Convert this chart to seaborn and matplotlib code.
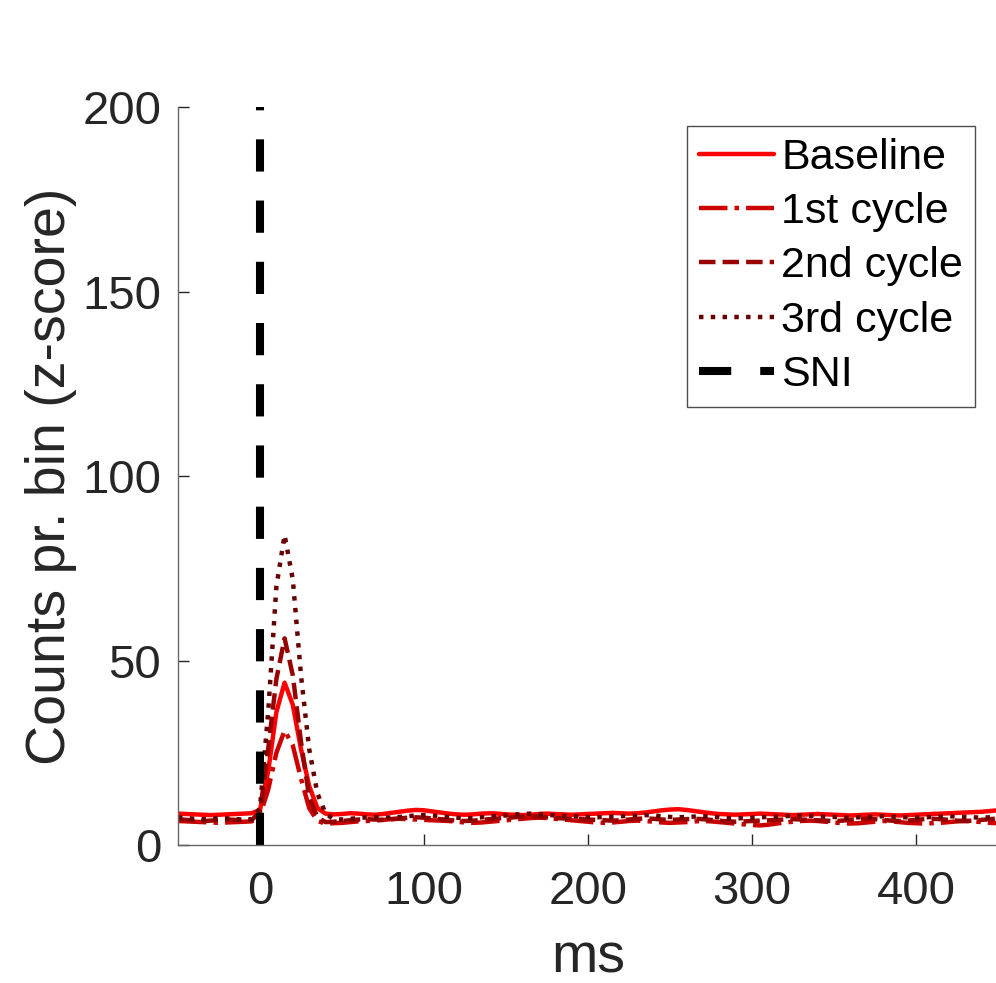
import matplotlib
matplotlib.use('Agg')
import matplotlib.pyplot as plt
import seaborn as sns
import numpy as np
import pandas as pd

# time bins (ms), 5 ms steps
ms = np.arange(-50, 455, 5)

baseline = [8.5, 8.4, 8.3, 8.2, 8.1, 8.2, 8.3, 8.4, 8.5, 8.6,
            9.5, 20, 36, 44, 38, 26, 16, 10, 8.5, 8.3,
            8.4, 8.6, 8.5, 8.3, 8.2, 8.4, 8.7, 9.0, 9.3, 9.5,
            9.4, 9.1, 8.8, 8.5, 8.3, 8.2, 8.3, 8.5, 8.6, 8.5,
            8.3, 8.2, 8.1, 8.2, 8.4, 8.5, 8.4, 8.3, 8.2, 8.3,
            8.4, 8.5, 8.6, 8.7, 8.6, 8.5, 8.6, 8.8, 9.1, 9.4,
            9.6, 9.7, 9.5, 9.2, 8.9, 8.6, 8.4, 8.3, 8.2, 8.3,
            8.4, 8.5, 8.4, 8.3, 8.2, 8.1, 8.2, 8.3, 8.4, 8.3,
            8.2, 8.1, 8.0, 8.1, 8.2, 8.3, 8.2, 8.1, 8.0, 8.1,
            8.2, 8.3, 8.4, 8.5, 8.6, 8.7, 8.8, 8.9, 9.0, 9.2, 9.4]

cycle1 = [6.5, 6.4, 6.3, 6.2, 6.1, 6.0, 6.1, 6.2, 6.3, 6.4,
          8, 15, 25, 31, 27, 18, 10, 6.5, 5.8, 5.9,
          6.0, 6.2, 6.4, 6.5, 6.6, 6.8, 7.0, 7.1, 7.0, 6.9,
          6.8, 6.7, 6.6, 6.5, 6.3, 6.1, 6.0, 6.1, 6.3, 6.5,
          6.7, 6.9, 7.1, 7.3, 7.4, 7.3, 7.1, 6.9, 6.7, 6.5,
          6.3, 6.1, 6.0, 6.1, 6.3, 6.5, 6.6, 6.5, 6.3, 6.1,
          6.0, 6.1, 6.2, 6.4, 6.5, 6.4, 6.2, 6.0, 5.8, 5.6,
          5.4, 5.3, 5.5, 5.8, 6.1, 6.3, 6.5, 6.6, 6.5, 6.3,
          6.1, 5.9, 5.8, 5.9, 6.1, 6.3, 6.5, 6.4, 6.2, 6.0,
          5.9, 5.8, 5.9, 6.0, 6.2, 6.4, 6.5, 6.4, 6.2, 6.0, 5.9]

cycle2 = [7.0, 6.8, 6.6, 6.5, 6.6, 6.8, 6.9, 6.8, 6.7, 6.8,
          9, 26, 45, 56, 46, 28, 13, 7.5, 6.2, 6.3,
          6.5, 6.7, 6.9, 7.0, 6.9, 6.8, 7.0, 7.2, 7.4, 7.5,
          7.4, 7.2, 7.0, 6.8, 6.6, 6.5, 6.6, 6.8, 7.0, 7.2,
          7.3, 7.5, 7.7, 7.8, 7.7, 7.5, 7.3, 7.2, 7.1, 7.0,
          6.9, 6.8, 6.7, 6.6, 6.7, 6.9, 7.1, 7.2, 7.1, 6.9,
          6.8, 6.9, 7.0, 7.1, 7.0, 6.8, 6.6, 6.4, 6.3, 6.4,
          6.5, 6.6, 6.7, 6.8, 6.9, 7.0, 6.9, 6.8, 6.7, 6.6,
          6.5, 6.6, 6.8, 7.0, 7.1, 7.0, 6.8, 6.6, 6.5, 6.6,
          6.8, 7.0, 7.1, 7.0, 6.8, 6.6, 6.5, 6.6, 6.8, 7.0, 7.2]

cycle3 = [7.5, 7.3, 7.1, 7.0, 7.1, 7.3, 7.2, 7.0, 6.9, 7.0,
          10, 36, 70, 84, 72, 46, 26, 14, 8.5, 7.0,
          6.9, 7.1, 7.3, 7.5, 7.6, 7.5, 7.4, 7.6, 7.8, 8.0,
          8.1, 8.0, 7.8, 7.6, 7.4, 7.2, 7.3, 7.5, 7.7, 7.9,
          8.0, 8.2, 8.4, 8.5, 8.4, 8.2, 8.0, 7.9, 7.8, 7.7,
          7.6, 7.5, 7.6, 7.7, 7.8, 7.9, 8.0, 8.1, 8.0, 7.8,
          7.6, 7.5, 7.6, 7.7, 7.8, 7.7, 7.5, 7.3, 7.2, 7.3,
          7.4, 7.5, 7.6, 7.7, 7.8, 7.9, 8.0, 7.9, 7.8, 7.7,
          7.6, 7.5, 7.4, 7.5, 7.6, 7.7, 7.8, 7.7, 7.6, 7.5,
          7.4, 7.5, 7.6, 7.7, 7.8, 7.7, 7.6, 7.5, 7.4, 7.5, 7.6]

labels = ["Baseline", "1st cycle", "2nd cycle", "3rd cycle"]
colors = [(1.0, 0, 0), (0.8, 0, 0), (0.6, 0, 0), (0.4, 0, 0)]
styles = ["-", "-.", "--", ":"]

sni_x = [0, 0]
sni_y = [0, 200]

sns.set_style("ticks")
plt.rcParams['font.family'] = ['Liberation Sans', 'DejaVu Sans']

text_col = (0.15, 0.15, 0.15)

fig = plt.figure(figsize=(9.96, 9.83), dpi=100)
ax = fig.add_axes([0.1787, 0.1404, 0.8233, 0.7507])

df = pd.DataFrame({"ms": ms, "Baseline": baseline, "1st cycle": cycle1,
                   "2nd cycle": cycle2, "3rd cycle": cycle3})

for lab, col, ls in zip(labels, colors, styles):
    sns.lineplot(data=df, x="ms", y=lab, ax=ax, color=col, linestyle=ls,
                 linewidth=3.2, label=lab)

ax.plot(sni_x, sni_y, color="black", linewidth=5.8, dashes=(4, 3.6),
        solid_capstyle="butt", dash_capstyle="butt", label="SNI")

ax.set_xlim(-50, 450)
ax.set_ylim(0, 200)
ax.set_xticks([0, 100, 200, 300, 400])
ax.set_yticks([0, 50, 100, 150, 200])
ax.tick_params(direction="in", length=8, width=1, colors=text_col,
               labelsize=34)
ax.tick_params(axis="y", pad=12)
ax.tick_params(axis="x", pad=18)
ax.set_xlabel("ms", fontsize=40, color=text_col, labelpad=13)
ax.set_ylabel("Counts pr. bin (z-score)", fontsize=40, color=text_col, labelpad=4)

sns.despine(ax=ax, top=True, right=True)
for s in ["left", "bottom"]:
    ax.spines[s].set_color((0.4, 0.4, 0.4))
    ax.spines[s].set_linewidth(1)

leg = ax.legend(loc="upper right", bbox_to_anchor=(975 / 996, 1 - 126 / 983),
                bbox_transform=fig.transFigure, fontsize=31, frameon=True,
                fancybox=False, framealpha=1, handlelength=1.75,
                handletextpad=0.16, borderpad=0.28, labelspacing=0.33,
                borderaxespad=0)
leg.get_frame().set_edgecolor((0.3, 0.3, 0.3))
leg.get_frame().set_linewidth(1)
for t in leg.get_texts():
    t.set_color("black")

fig.savefig("out.png", dpi=100)
plt.close()
